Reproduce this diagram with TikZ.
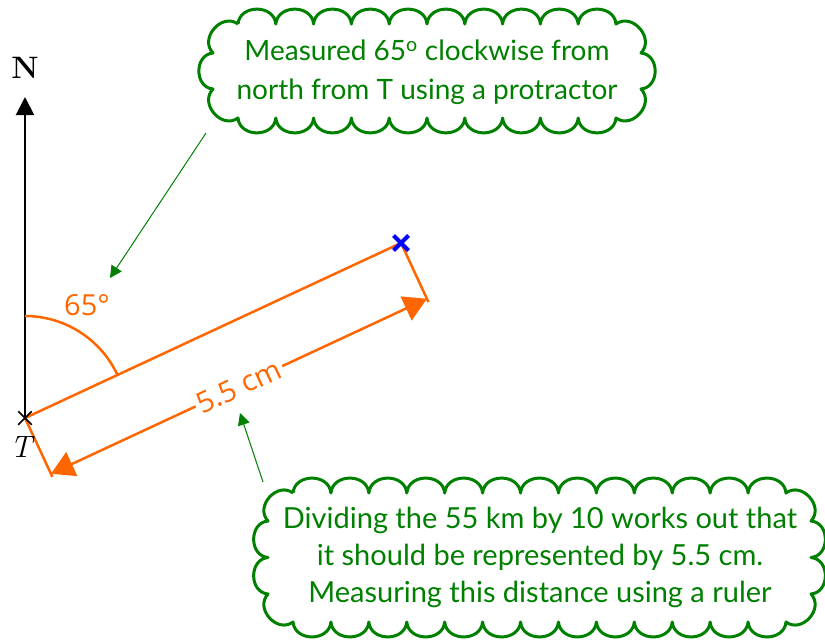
\documentclass[tikz,border=0pt]{standalone}
\usepackage{fontspec}
\newfontfamily\cloudfont{Lato}
\newfontfamily\labfont{Open Sans}
\usetikzlibrary{arrows.meta,calc,shapes.misc}
\definecolor{myorange}{RGB}{255,102,0}
\definecolor{mygreen}{RGB}{0,128,0}
\definecolor{myblue}{RGB}{0,0,255}
\tikzset{
  orangeline/.style={draw=myorange, line width=2.5pt},
  cloudline/.style={draw=mygreen, line width=3pt, line join=round},
  bump/.style={bend left=85, looseness=1.35},
  cloudtext/.style={text=mygreen, font=\cloudfont\fontsize{28}{38.5}\selectfont, align=center},
  pointer/.style={draw=mygreen, line width=1pt, -{Triangle[length=12pt,width=12pt]}},
  dimline/.style={draw=myorange, line width=2.5pt, {Triangle[length=23pt,width=26pt]}-{Triangle[length=23pt,width=26pt]}},
  lab/.style={text=myorange, font=\labfont\fontsize{29}{32}\selectfont},
}
% xl, xr, yt, yb (screen px), cx, cy, nx, ny
\newcommand{\mycloud}[8]{%
  \draw[cloudline] ({#1+#5},{-#3})
    \foreach \i in {1,...,#7} { to[bump] ({#1+#5+\i*(#2-#1-2*#5)/#7},{-#3}) }
    to[bump] ({#2},{-(#3+#6)})
    \foreach \i in {1,...,#8} { to[bump] ({#2},{-(#3+#6+\i*(#4-#3-2*#6)/#8)}) }
    to[bump] ({#2-#5},{-#4})
    \foreach \i in {1,...,#7} { to[bump] ({#2-#5-\i*(#2-#1-2*#5)/#7},{-#4}) }
    to[bump] ({#1},{-(#4-#6)})
    \foreach \i in {1,...,#8} { to[bump] ({#1},{-(#4-#6-\i*(#4-#3-2*#6)/#8)}) }
    to[bump] ({#1+#5},{-#3});
}
\begin{document}
\begin{tikzpicture}[x=1pt,y=1pt]
\useasboundingbox (0,0) rectangle (825,-640);
% key points
\coordinate (T) at (25,-418);
\coordinate (B) at (401,-243);
\coordinate (Ntip) at (25,-97);
\coordinate (e1) at ($(T)!65pt!-90:(B)$);
\coordinate (e2) at ($(B)!65pt!90:(T)$);
\coordinate (d1) at ($(T)!61.5pt!-90:(B)$);
\coordinate (d2) at ($(B)!61.5pt!90:(T)$);
% north arrow
\draw[line width=2pt, -{Triangle[length=18pt,width=18pt]}] (T) -- (Ntip);
\node[font=\bfseries\fontsize{31}{34}\selectfont, inner sep=0] (N) at (25,-68) {N};
% bearing line
\draw[orangeline] (T) -- (B);
\draw[orangeline] ($(T)+(0,102)$) arc[start angle=90, end angle=25, radius=102];
\node[lab] (ang) at (87,-305) {65°};
% dimension
\draw[orangeline] (T) -- (e1);
\draw[orangeline] (B) -- (e2);
\draw[dimline] (d1) -- (d2) node[midway, sloped, fill=white, lab, inner sep=3pt] (dl) {5.5 cm};
% crosses
\node[cross out, draw=black, line width=1.5pt, minimum size=12pt, inner sep=0] (Tx) at (T) {};
\node[cross out, draw=myblue, line width=4pt, minimum size=11pt, inner sep=0] (Bx) at (B) {};
\node[font=\itshape\fontsize{31}{34}\selectfont, inner sep=0] (Tl) at (21,-447) {T};
% clouds
\mycloud{213}{641}{24}{118}{25}{29}{10}{1}
\node[cloudtext] (c1) at (427,-72) {Measured 65\textsuperscript{o} clockwise from\\north from T using a protractor};
\mycloud{268}{811}{493}{622}{25}{28}{13}{2}
\node[cloudtext, font=\cloudfont\fontsize{29}{37}\selectfont] (c2) at (540,-557) {Dividing the 55 km by 10 works out that\\it should be represented by 5.5 cm.\\Measuring this distance using a ruler};
% pointers
\coordinate (p1s) at (206,-133);
\coordinate (p1e) at (110,-278);
\coordinate (p2s) at (263,-482);
\coordinate (p2e) at (240,-413);
\draw[pointer] (p1s) -- (p1e);
\draw[pointer] (p2s) -- (p2e);
\end{tikzpicture}
\end{document}
